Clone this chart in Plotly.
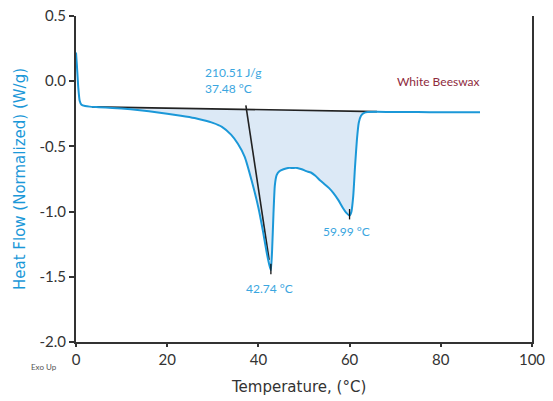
import plotly.graph_objects as go
import numpy as np

# DSC heating scan of white beeswax
temperature = [0.0, 0.2, 0.5, 0.8, 1.2, 2.0, 3.0, 5, 8, 12, 16, 20, 23, 26, 28, 30,
               32, 34, 35.5, 37, 38.5, 40, 41, 41.8, 42.4, 42.74, 43.0, 43.3, 43.6,
               44.0, 44.6, 45.5, 46.5, 47.5, 48.5, 49.5, 50.5, 51.5, 52.5, 53.5, 54.5,
               55.5, 56.5, 57.5, 58.5, 59.3, 59.99, 60.4, 60.8, 61.2, 61.6, 62.0, 62.5,
               63.2, 64, 66, 70, 75, 80, 85, 88.6]
heat_flow = [0.22, 0.12, -0.05, -0.15, -0.18, -0.19, -0.195, -0.199, -0.205, -0.215,
             -0.23, -0.25, -0.265, -0.283, -0.30, -0.32, -0.35, -0.41, -0.48, -0.58,
             -0.76, -0.97, -1.15, -1.31, -1.41, -1.45, -1.30, -1.02, -0.80, -0.72,
             -0.69, -0.675, -0.665, -0.665, -0.665, -0.675, -0.69, -0.70, -0.725,
             -0.76, -0.79, -0.82, -0.86, -0.91, -0.97, -1.01, -1.03, -1.00, -0.88,
             -0.65, -0.45, -0.32, -0.265, -0.243, -0.237, -0.235, -0.236, -0.237,
             -0.238, -0.238, -0.238]

# Integration baseline and onset tangent
baseline_x = [3.5, 66.0]
baseline_y = [-0.197, -0.233]
onset_line_x = [37.25, 42.35]
onset_line_y = [-0.185, -1.37]

# Peak markers
peak_x = [42.74, 59.99]
peak_y = [-1.45, -1.03]
peak_labels = ["42.74 °C", "59.99 °C"]
enthalpy_label = "210.51 J/g<br>37.48 °C"
sample_name = "White Beeswax"

x_ticks = [0, 20, 40, 60, 80, 100]
y_ticks = [0.5, 0.0, -0.5, -1.0, -1.5, -2.0]

BLUE = "#1b98d8"
LABEL_BLUE = "#3aa6e0"
FILL = "#dce9f6"
AXIS = "#333333"
FONT = "Lato"
TITLE_FONT = "DejaVu Sans"

t = np.array(temperature)
h = np.array(heat_flow)

# shaded area between the curve and the baseline
mask = (t >= baseline_x[0]) & (t <= baseline_x[1])
fx = np.concatenate([[baseline_x[0]], t[mask], [baseline_x[1]]])
fy = np.concatenate([[baseline_y[0]], h[mask], [baseline_y[1]]])
bx = np.array(baseline_x[::-1])
by = np.array(baseline_y[::-1])

fig = go.Figure()
fig.add_trace(go.Scatter(
    x=np.concatenate([fx, bx]), y=np.concatenate([fy, by]),
    fill="toself", fillcolor=FILL, mode="lines",
    line=dict(width=0, shape="spline", smoothing=0.5), hoverinfo="skip"))

fig.add_trace(go.Scatter(
    x=baseline_x, y=baseline_y, mode="lines",
    line=dict(color="#222222", width=1.6)))
fig.add_trace(go.Scatter(
    x=onset_line_x, y=onset_line_y, mode="lines",
    line=dict(color="#222222", width=1.6)))

fig.add_trace(go.Scatter(
    x=temperature, y=heat_flow, mode="lines",
    line=dict(color=BLUE, width=2, shape="spline", smoothing=0.5)))

# short tick marks at the peak minima
for px, py in zip(peak_x, peak_y):
    fig.add_trace(go.Scatter(
        x=[px, px], y=[py + 0.05, py - 0.03], mode="lines",
        line=dict(color="#111111", width=1.3)))

fig.add_annotation(x=peak_x[0] - 0.4, y=peak_y[0] - 0.07, text=peak_labels[0],
                   showarrow=False, yanchor="top", xanchor="center",
                   font=dict(family=FONT, size=12, color=LABEL_BLUE))
fig.add_annotation(x=peak_x[1] - 0.6, y=peak_y[1] - 0.05, text=peak_labels[1],
                   showarrow=False, yanchor="top", xanchor="center",
                   font=dict(family=FONT, size=12, color=LABEL_BLUE))
fig.add_annotation(x=27.9, y=0.004, text=enthalpy_label, showarrow=False,
                   xanchor="left", yanchor="middle", align="left",
                   font=dict(family=FONT, size=12, color=LABEL_BLUE))
fig.add_annotation(x=79.3, y=0.0, text=sample_name, showarrow=False,
                   xanchor="center", yanchor="middle",
                   font=dict(family=FONT, size=12, color="#8e2a3c"))

fig.add_annotation(xref="paper", yref="paper", x=(43.5 - 76) / 456, y=-25 / 326,
                   text="Exo Up", showarrow=False, xanchor="center", yanchor="middle",
                   font=dict(family=FONT, size=8, color="#555555"))

# axis titles
fig.add_annotation(xref="paper", yref="paper", x=(298 - 76) / 456, y=-45 / 326,
                   text="Temperature, (°C)", showarrow=False,
                   xanchor="center", yanchor="middle",
                   font=dict(family=TITLE_FONT, size=15, color=AXIS))
fig.add_annotation(xref="paper", yref="paper", x=-56 / 456, y=0.5,
                   text="Heat Flow (Normalized) (W/g)", showarrow=False,
                   textangle=-90, xanchor="center", yanchor="middle",
                   font=dict(family=TITLE_FONT, size=15, color=BLUE))

fig.update_layout(
    width=553, height=401,
    margin=dict(l=76, r=21, t=16, b=59, autoexpand=False),
    paper_bgcolor="white", plot_bgcolor="white",
    showlegend=False,
    font=dict(family=FONT, size=15, color=AXIS),
)
fig.update_xaxes(
    range=[0, 100], tickvals=x_ticks, ticktext=[str(v) for v in x_ticks],
    showgrid=False, zeroline=False, showline=True, linecolor=AXIS, linewidth=2,
    ticks="outside", ticklen=3, tickwidth=2, tickcolor=AXIS, automargin=False,
    tickfont=dict(family=FONT, size=15, color=AXIS),
)
fig.update_yaxes(
    range=[-2.0, 0.5], tickvals=y_ticks, ticktext=[f"{v:.1f}" for v in y_ticks],
    showgrid=False, zeroline=False, showline=True, linecolor=AXIS, linewidth=2,
    mirror=True, automargin=False,
    ticks="outside", ticklen=5, tickwidth=2, tickcolor=AXIS,
    tickfont=dict(family=FONT, size=15, color=AXIS),
)

fig.write_html("out.html")
